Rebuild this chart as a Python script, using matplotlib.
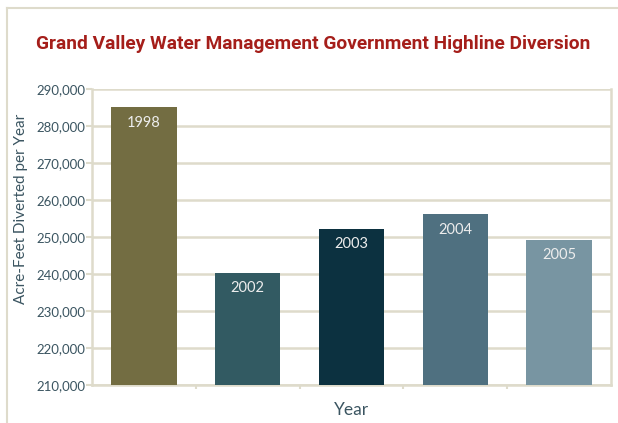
import matplotlib
matplotlib.use("Agg")
import matplotlib.pyplot as plt
import matplotlib.ticker as ticker
import numpy as np

years = ['1998', '2002', '2003', '2004', '2005']
acre_feet = [285100, 240300, 252200, 256200, 249200]
bar_colors = ['#736D42', '#325A62', '#0C3140', '#4F7080', '#7895A2']

grid_c = '#DEDBCB'
text_c = '#3B5561'

plt.rcParams['font.family'] = ['Lato', 'DejaVu Sans']

fig = plt.figure(figsize=(6.18, 4.23), dpi=100)
ax = fig.add_axes([92 / 618, 38 / 423, 519 / 618, 296 / 423])

x = np.arange(len(years))
bars = ax.bar(x, acre_feet, width=0.63, color=bar_colors, zorder=3)
for xi, v, y in zip(x, acre_feet, years):
    ax.text(xi, v - 2300, y, ha='center', va='top', color='#EDEDED', fontsize=10.5, zorder=4)

ax.set_ylim(210000, 290000)
ax.set_xlim(-0.5, 4.5)
ax.yaxis.set_major_locator(ticker.MultipleLocator(10000))
ax.yaxis.set_major_formatter(ticker.StrMethodFormatter('{x:,.0f}'))
ax.set_xticks(np.arange(0.5, 4.5, 1))
ax.set_xticklabels([])
ax.tick_params(axis='x', length=3, color=grid_c, width=1.5, direction='out')
ax.tick_params(axis='y', length=4, color=grid_c, width=1.5, labelcolor=text_c, labelsize=9.5, pad=1)

ax.grid(axis='y', color=grid_c, lw=1.8, zorder=0)
for s in ['left', 'bottom', 'right']:
    ax.spines[s].set_color(grid_c)
    ax.spines[s].set_linewidth(1.8)
ax.spines['top'].set_visible(False)

ax.set_ylabel('Acre-Feet Diverted per Year', fontsize=11, color=text_c)
ax.yaxis.set_label_coords(-0.124, 0.595)
ax.set_xlabel('Year', fontsize=12.5, color=text_c, labelpad=6)

fig.text(313 / 618, 1 - 44 / 423, 'Grand Valley Water Management Government Highline Diversion',
         ha='center', va='center', color='#A51E1A', fontsize=13.8, fontweight='bold',
         family=['Roboto', 'DejaVu Sans'])

# outer frame lines (top and left)
fig.add_artist(plt.Line2D([7 / 618, 1], [1 - 8 / 423, 1 - 8 / 423], color=grid_c, lw=1.5))
fig.add_artist(plt.Line2D([7 / 618, 7 / 618], [0, 1 - 8 / 423], color=grid_c, lw=1.5))

fig.savefig('out.png', dpi=100)
